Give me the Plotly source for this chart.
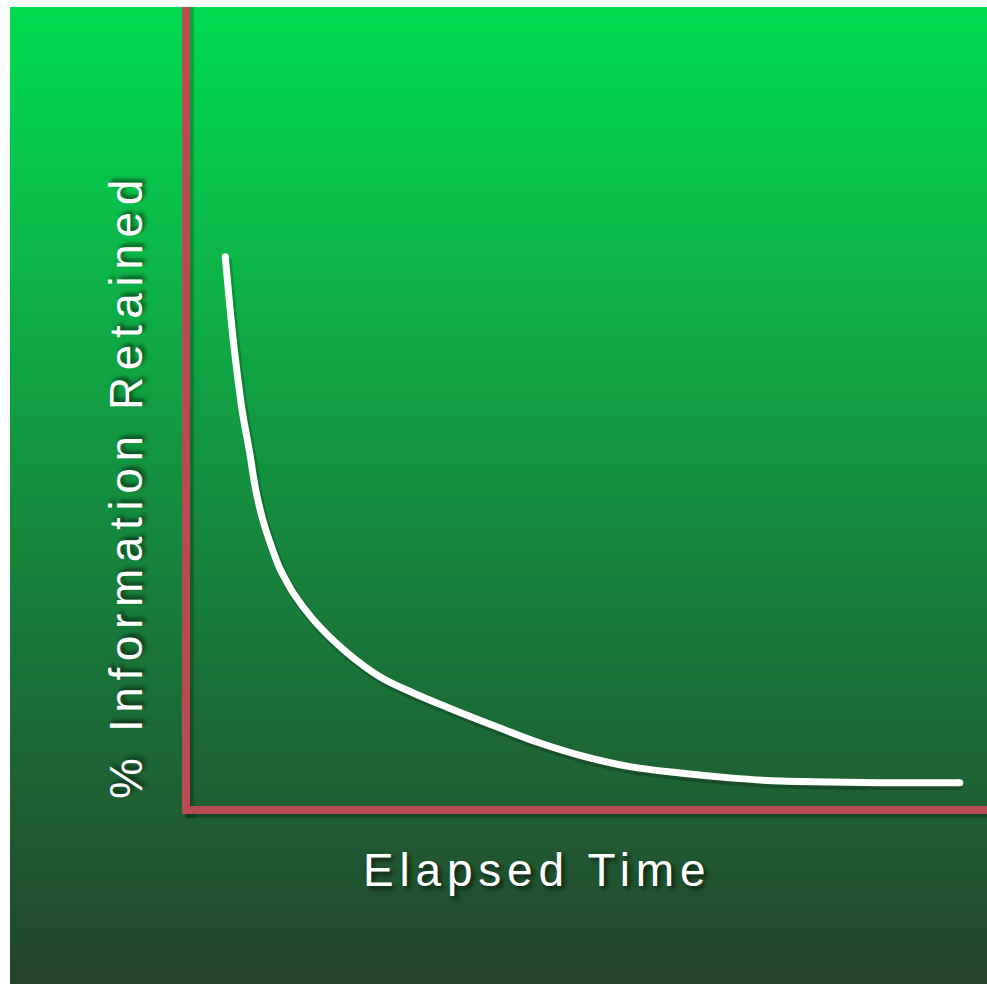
import numpy as np
import plotly.graph_objects as go

# ---- data ----
elapsed_time = [4.9, 5.4, 5.9, 6.5, 7.1, 7.9, 8.7, 9.6, 10.6, 11.7, 12.6, 13.4,
                15.9, 20.1, 24.2, 28.3, 32.6, 39.2, 44.0, 49.2, 55.4, 61.7, 67.9, 74.2,
                80.4, 86.6, 96.6]
retained_pct = [68.9, 63.5, 58.5, 53.5, 49.2, 44.8, 39.9, 36.1, 33.0, 30.1, 28.4, 27.0,
                23.7, 19.6, 16.6, 14.6, 12.8, 10.2, 8.4, 6.8, 5.4, 4.6, 4.0, 3.6,
                3.5, 3.4, 3.4]
x_label = "Elapsed Time"
y_label = "% Information Retained"

# ---- geometry helpers (pixel -> paper) ----
W, H = 987, 984
ML, MT = 10, 7
PW, PH = W - ML, H - MT


def px(x):
    return (x - ML) / PW


def py(y):
    return (H - y) / PH


# background gradient (top -> bottom)
grad_stops = [
    (0.00, "#00dc50"),
    (0.25, "#0cb848"),
    (0.50, "#158e3e"),
    (0.72, "#1b6c36"),
    (0.85, "#1f5a31"),
    (1.00, "#24432a"),
]
nrows = 200
zvals = np.linspace(1, 0, nrows)  # 1 at top
yrows = np.linspace(0, 1, nrows)[::-1]
colorscale = [[1 - s, c] for s, c in grad_stops][::-1]

fig = go.Figure()

fig.add_trace(go.Heatmap(
    z=[[v, v] for v in zvals], x=[0, 1], y=yrows,
    colorscale=colorscale, zmin=0, zmax=1, zsmooth="best",
    showscale=False, hoverinfo="skip", xaxis="x", yaxis="y",
))

# shadow of curve (slightly offset axes)
fig.add_trace(go.Scatter(
    x=elapsed_time, y=retained_pct, mode="lines",
    line=dict(color="rgba(0,0,0,0.2)", width=9, shape="spline", smoothing=1.0),
    hoverinfo="skip", xaxis="x2", yaxis="y2", showlegend=False,
))

# main curve
fig.add_trace(go.Scatter(
    x=elapsed_time, y=retained_pct, mode="lines",
    line=dict(color="white", width=7, shape="spline", smoothing=1.0),
    hoverinfo="skip", xaxis="x3", yaxis="y3", showlegend=False,
))
# round caps at the ends
fig.add_trace(go.Scatter(
    x=[elapsed_time[0], elapsed_time[-1]], y=[retained_pct[0], retained_pct[-1]],
    mode="markers", marker=dict(color="white", size=7, line=dict(width=0)),
    hoverinfo="skip", xaxis="x3", yaxis="y3", showlegend=False,
))

x0, y0 = 186, 810
xd = [px(x0), 1]
yd = [py(y0), 1]
sx, sy = 2 / PW, 3 / PH
xppu = (W - x0) / 100.0  # pixels per x unit
hidden = dict(visible=False, showgrid=False, zeroline=False, fixedrange=True)

fig.update_layout(
    width=W, height=H,
    margin=dict(l=ML, r=0, t=MT, b=0, pad=0),
    paper_bgcolor="white", plot_bgcolor="rgba(0,0,0,0)",
    showlegend=False,
    xaxis=dict(domain=[0, 1], range=[0, 1], **hidden),
    yaxis=dict(domain=[0, 1], range=[0, 1], **hidden),
    xaxis2=dict(domain=[xd[0] + sx, 1], range=[0, 100 - 2 / xppu], anchor="y2", **hidden),
    yaxis2=dict(domain=[yd[0] - sy, yd[1] - sy], range=[0, 100], anchor="x2", **hidden),
    xaxis3=dict(domain=xd, range=[0, 100], anchor="y3", **hidden),
    yaxis3=dict(domain=yd, range=[0, 100], anchor="x3", **hidden),
)

red = "#b94c50"
shapes = []
# soft shadows of axis lines (layered)
for off, a in [(5, 0.07), (4, 0.08), (3, 0.1)]:
    shapes.append(dict(type="rect", xref="paper", yref="paper",
                       x0=px(182 + off - 1), x1=px(190 + off), y0=py(814 + off), y1=py(7),
                       fillcolor=f"rgba(0,0,0,{a})", line=dict(width=0), layer="above"))
    shapes.append(dict(type="rect", xref="paper", yref="paper",
                       x0=px(182 + off), x1=1, y0=py(814 + off), y1=py(806 + off - 1),
                       fillcolor=f"rgba(0,0,0,{a})", line=dict(width=0), layer="above"))
# axis lines
shapes.append(dict(type="rect", xref="paper", yref="paper",
                   x0=px(182), x1=px(190), y0=py(814), y1=py(7),
                   fillcolor=red, line=dict(width=0), layer="above"))
shapes.append(dict(type="rect", xref="paper", yref="paper",
                   x0=px(182), x1=1, y0=py(814), y1=py(806),
                   fillcolor=red, line=dict(width=0), layer="above"))
fig.update_layout(shapes=shapes)

label_font = dict(family="Liberation Sans, Arial, sans-serif", size=46, color="white",
                  shadow="3px 3px 4px rgba(0,0,0,0.6)")
fig.add_annotation(
    text=f'<span style="letter-spacing:5.8px">{x_label}</span>',
    xref="paper", yref="paper", x=px(537), y=py(870),
    xanchor="center", yanchor="middle", showarrow=False, font=label_font,
)
fig.add_annotation(
    text=f'<span style="letter-spacing:6.6px">{y_label}</span>',
    xref="paper", yref="paper", x=px(126), y=py(486),
    xanchor="center", yanchor="middle", showarrow=False, textangle=-90, font=label_font,
)

fig.write_html(
    "out.html",
    config={"displayModeBar": False},
    post_script="document.body.style.margin='0';document.body.style.overflow='hidden';",
)
